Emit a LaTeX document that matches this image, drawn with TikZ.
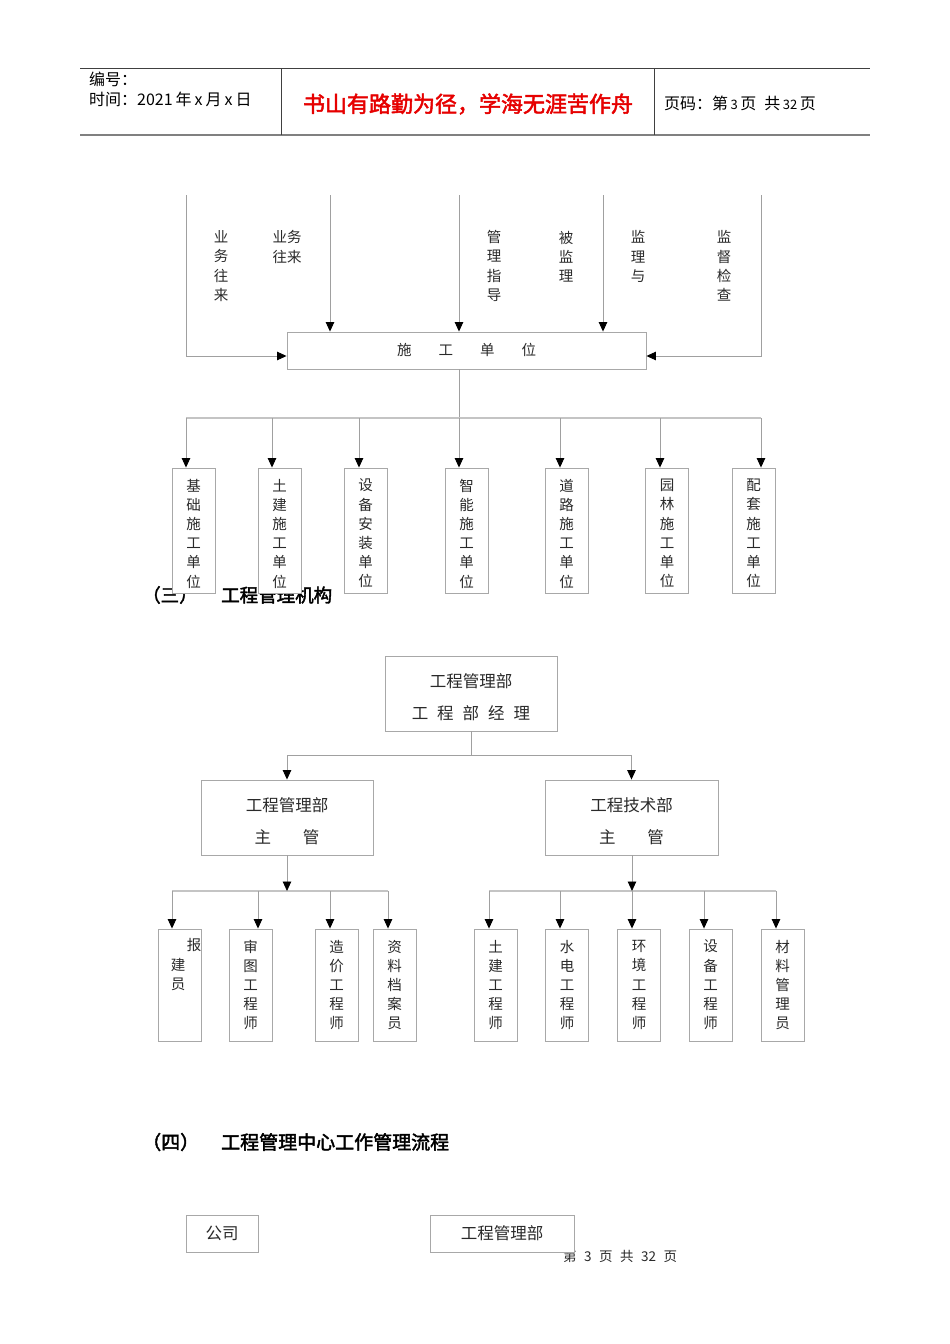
\documentclass[tikz,border=0pt]{standalone}
\usepackage{tikz}
\usepackage{fontspec}
\setmainfont{Noto Sans CJK SC}
\newfontfamily\hdbold[FakeBold=2.2]{Noto Sans CJK SC}
\usetikzlibrary{arrows.meta,calc}
\definecolor{boxc}{HTML}{A8A8A8}
\definecolor{linec}{HTML}{A0A0A0}
\definecolor{busc}{HTML}{C4C4C4}
\definecolor{txtc}{HTML}{2A2A2A}
\definecolor{hdrc}{HTML}{404040}
\begin{document}
\begin{tikzpicture}[x=1pt,y=-1pt,
  box/.style={draw=boxc, line width=0.9pt, fill=white, inner sep=0pt, text=txtc, align=center},
  vbox/.style={box, minimum width=43pt},
  hbox/.style={box, font=\fontsize{16.5}{32}\selectfont},
  conn/.style={draw=linec, line width=0.9pt},
  bus/.style={draw=busc, line width=1.8pt},
  arr/.style={conn, -{Triangle[width=8.5pt,length=9.5pt,color=black]}},
  lbl/.style={inner sep=0pt, text=txtc, align=center, font=\fontsize{14.5}{19.2}\selectfont},
  head/.style={inner sep=0pt, anchor=west, font=\fontsize{18.5}{19}\hdbold},
  hdr/.style={inner sep=0pt, anchor=west, font=\fontsize{16}{16}\selectfont}]
\useasboundingbox (0,0) rectangle (950,1344);
\fill[white] (0,0) rectangle (950,1344);

% ---------- header ----------
\draw[hdrc, line width=0.9pt] (80,68) -- (870,68);
\draw[gray, line width=1.8pt] (80,135) -- (870,135);
\draw[hdrc, line width=0.9pt] (281,68) -- (281,135);
\draw[hdrc, line width=0.9pt] (654,68) -- (654,135);
\node[hdr] (bh) at (89,79) {编号：};
\node[hdr] (sj) at (89,99) {时间：2021\hspace{3pt}年\hspace{3pt}x\hspace{3pt}月\hspace{3pt}x\hspace{3pt}日};
\node[inner sep=0pt, text={rgb,255:red,230;green,0;blue,0}, font=\fontsize{22}{22}\hdbold] (motto) at (468,104) {书山有路勤为径，学海无涯苦作舟};
\node[hdr] (ym) at (664,103) {页码：第\hspace{2.5pt}{\fontsize{13}{12}\selectfont 3}\hspace{2.5pt}页\hspace{8pt}共\hspace{2.5pt}{\fontsize{13}{12}\selectfont 32}\hspace{2.5pt}页};

% ---------- chart 1 ----------
\node[box, minimum width=359pt, minimum height=37pt, font=\fontsize{14.5}{15}\selectfont] (sg) at (466.5,350.5)
  {\raisebox{2pt}{施\hspace{27pt}工\hspace{27pt}单\hspace{27pt}位}};
\coordinate (t1) at (186,195);
\coordinate (t2) at (330,195);
\coordinate (t3) at (459,195);
\coordinate (t4) at (603,195);
\coordinate (t5) at (761,195);
\draw[arr] (t1) |- ($(sg.west)+(0,5.5)$);
\draw[arr] (t2) -- (sg.north -| t2);
\draw[arr] (t3) -- (sg.north -| t3);
\draw[arr] (t4) -- (sg.north -| t4);
\draw[arr] (t5) |- ($(sg.east)+(0,5.5)$);
\node[lbl] (l1) at (221,266) {业\\务\\往\\来};
\node[lbl] (l2) at (287,247) {业务\\往来};
\node[lbl] (l3) at (494,266) {管\\理\\指\\导};
\node[lbl] (l4) at (566,256.5) {被\\监\\理};
\node[lbl] (l5) at (638,256.5) {监\\理\\与};
\node[lbl] (l6) at (724,266) {监\\督\\检\\查};

\coordinate (bus1) at (459,418);
\coordinate (a1) at (186,418);
\coordinate (a2) at (272,418);
\coordinate (a3) at (359,418);
\coordinate (a4) at (459,418);
\coordinate (a5) at (560,418);
\coordinate (a6) at (660,418);
\coordinate (a7) at (761,418);
\draw[conn] (sg.south -| bus1) -- (bus1);
\draw[bus] (a1) -- (a7);

% heading (partly covered by the boxes, as in the original)
\node[head] (h3a) at (142,595) {（三）};
\node[head] (h3b) at (221,595) {工程管理机构};

\node[vbox, minimum height=125pt] (b1) at (193.5,530.5) {};
\node[vbox, minimum height=125pt] (b2) at (279.5,530.5) {};
\node[vbox, minimum height=125pt] (b3) at (365.5,530.5) {};
\node[vbox, minimum height=125pt] (b4) at (466.5,530.5) {};
\node[vbox, minimum height=125pt] (b5) at (566.5,530.5) {};
\node[vbox, minimum height=125pt] (b6) at (667,530.5) {};
\node[vbox, minimum height=125pt] (b7) at (753.5,530.5) {};
\node[lbl, yshift=-3pt] (b1t) at (b1) {基\\础\\施\\工\\单\\位};
\node[lbl, yshift=-3pt] (b2t) at (b2) {土\\建\\施\\工\\单\\位};
\node[lbl, yshift=-3pt] (b3t) at (b3) {设\\备\\安\\装\\单\\位};
\node[lbl, yshift=-3pt] (b4t) at (b4) {智\\能\\施\\工\\单\\位};
\node[lbl, yshift=-3pt] (b5t) at (b5) {道\\路\\施\\工\\单\\位};
\node[lbl, yshift=-3pt] (b6t) at (b6) {园\\林\\施\\工\\单\\位};
\node[lbl, yshift=-3pt] (b7t) at (b7) {配\\套\\施\\工\\单\\位};
\draw[arr] (a1) -- (a1 |- b1.north);
\draw[arr] (a2) -- (a2 |- b2.north);
\draw[arr] (a3) -- (a3 |- b3.north);
\draw[arr] (a4) -- (a4 |- b4.north);
\draw[arr] (a5) -- (a5 |- b5.north);
\draw[arr] (a6) -- (a6 |- b6.north);
\draw[arr] (a7) -- (a7 |- b7.north);

% ---------- chart 2 ----------
\node[hbox, minimum width=172pt, minimum height=75pt] (m0) at (471,693.5) {};
\node[hbox, minimum width=172pt, minimum height=75pt] (m1) at (287,817.5) {};
\node[hbox, minimum width=173pt, minimum height=75pt] (m2) at (631.5,817.5) {};
\node[inner sep=0pt, text=txtc, align=center, font=\fontsize{16.5}{32}\selectfont, yshift=-4pt] (m0t) at (m0)
  {工程管理部\\工\hspace{9pt}程\hspace{9pt}部\hspace{9pt}经\hspace{9pt}理};
\node[inner sep=0pt, text=txtc, align=center, font=\fontsize{16.5}{32}\selectfont, yshift=-4pt] (m1t) at (m1)
  {工程管理部\\主\hspace{32pt}管};
\node[inner sep=0pt, text=txtc, align=center, font=\fontsize{16.5}{32}\selectfont, yshift=-4pt] (m2t) at (m2)
  {工程技术部\\主\hspace{32pt}管};
\coordinate (bus2) at (471,755);
\draw[conn] (m0.south) -- (bus2);
\draw[arr] (bus2) -| (m1.north);
\draw[arr] (bus2) -| (m2.north);

\coordinate (c1) at (172,891);
\coordinate (c2) at (258,891);
\coordinate (c3) at (330,891);
\coordinate (c4) at (388,891);
\coordinate (d1) at (489,891);
\coordinate (d2) at (560,891);
\coordinate (d3) at (632,891);
\coordinate (d4) at (704,891);
\coordinate (d5) at (776,891);
\draw[bus] (c1) -- (c4);
\draw[bus] (d1) -- (d5);
\draw[arr] (m1.south) -- (m1.south |- c1);
\draw[arr] (m2.south -| d3) -- (d3);

\node[vbox, minimum height=112pt] (e1) at (179.5,985) {};
\node[lbl] (e1a) at (194,945) {报};
\node[lbl] (e1b) at (178,974.5) {建\\员};
\node[vbox, minimum height=112pt, font=\fontsize{14.5}{19.2}\selectfont] (e2) at (250.5,985) {审\\图\\工\\程\\师};
\node[vbox, minimum height=112pt, font=\fontsize{14.5}{19.2}\selectfont] (e3) at (336.5,985) {造\\价\\工\\程\\师};
\node[vbox, minimum height=112pt, font=\fontsize{14.5}{19.2}\selectfont] (e4) at (394.5,985) {资\\料\\档\\案\\员};
\node[vbox, minimum height=112pt, font=\fontsize{14.5}{19.2}\selectfont] (f1) at (495.5,985) {土\\建\\工\\程\\师};
\node[vbox, minimum height=112pt, font=\fontsize{14.5}{19.2}\selectfont] (f2) at (567,985) {水\\电\\工\\程\\师};
\node[vbox, minimum height=112pt, font=\fontsize{14.5}{19.2}\selectfont] (f3) at (639,985) {环\\境\\工\\程\\师};
\node[vbox, minimum height=112pt, font=\fontsize{14.5}{19.2}\selectfont] (f4) at (710.5,985) {设\\备\\工\\程\\师};
\node[vbox, minimum height=112pt, font=\fontsize{14.5}{19.2}\selectfont] (f5) at (782.5,985) {材\\料\\管\\理\\员};
\draw[arr] (c1) -- (c1 |- e1.north);
\draw[arr] (c2) -- (c2 |- e2.north);
\draw[arr] (c3) -- (c3 |- e3.north);
\draw[arr] (c4) -- (c4 |- e4.north);
\draw[arr] (d1) -- (d1 |- f1.north);
\draw[arr] (d2) -- (d2 |- f2.north);
\draw[arr] (d3) -- (d3 |- f3.north);
\draw[arr] (d4) -- (d4 |- f4.north);
\draw[arr] (d5) -- (d5 |- f5.north);

% ---------- section 4 ----------
\node[head, font=\fontsize{19}{19}\hdbold] (h4a) at (142,1142) {（四）};
\node[head, font=\fontsize{19}{19}\hdbold] (h4b) at (221,1142) {工程管理中心工作管理流程};
\node[inner sep=0pt, anchor=west, text=txtc, font=\fontsize{13.5}{13}\selectfont] (ft) at (563,1256)
  {第\hspace{7.5pt}3\hspace{7.5pt}页\hspace{7.5pt}共\hspace{7.5pt}32\hspace{7.5pt}页};
\node[box, minimum width=72pt, minimum height=37pt, font=\fontsize{16.5}{16}\selectfont] (gs) at (222,1233.5) {公司};
\node[box, minimum width=144pt, minimum height=37pt, font=\fontsize{16.5}{16}\selectfont] (gb) at (502,1233.5) {工程管理部};
\end{tikzpicture}
\end{document}
